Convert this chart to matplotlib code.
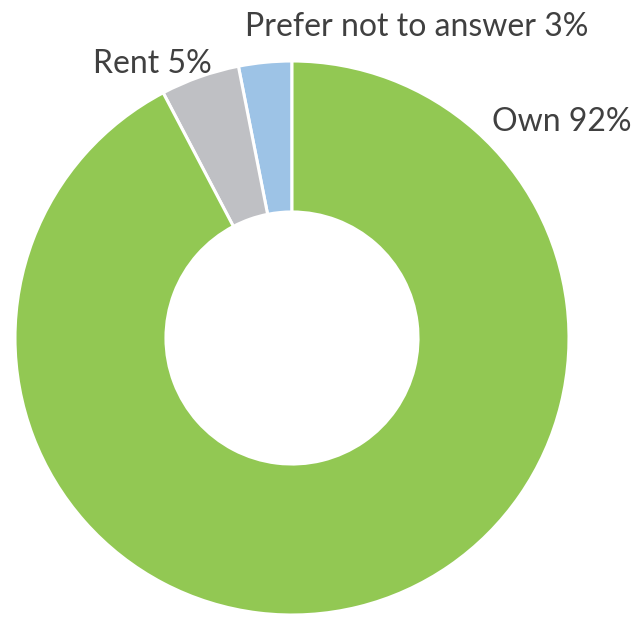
import matplotlib
matplotlib.use("Agg")
import matplotlib.pyplot as plt

labels = ["Prefer not to answer", "Rent", "Own"]
values = [3.1, 4.6, 92.3]
label_pct = ["3%", "5%", "92%"]
colors = ["#9DC3E6", "#BFC0C4", "#92C853"]

W, H = 634, 617
fig = plt.figure(figsize=(W / 100, H / 100), dpi=100)
ax = fig.add_axes([0, 0, 1, 1])

cx, cy, r = 292, H - 338, 277
ax.pie(values, colors=colors, startangle=90, counterclock=True,
       center=(cx, cy), radius=r, frame=True,
       wedgeprops=dict(width=r * 0.545, edgecolor="white", linewidth=2.2))
ax.set_xlim(0, W)
ax.set_ylim(0, H)
ax.set_aspect("equal")
ax.axis("off")

label_pos = [(245, 36), (93, 73), (492, 131)]
for lab, p, (x, y) in zip(labels, label_pct, label_pos):
    ax.text(x, H - y, f"{lab} {p}", ha="left", va="baseline",
            fontsize=23, color="#404040", family=["Lato", "DejaVu Sans"])

fig.savefig("out.png", dpi=100)
